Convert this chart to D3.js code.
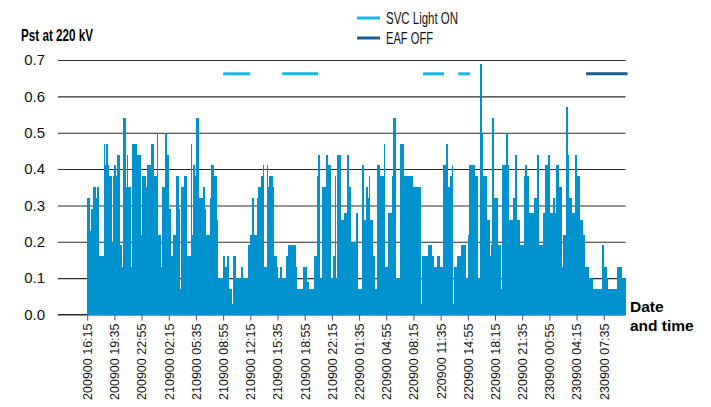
<!DOCTYPE html>
<html>
<head>
<meta charset="utf-8">
<script src="https://cdn.jsdelivr.net/npm/d3@7"></script>
<style>
  body { margin: 0; background: #fff; }
  svg { display: block; font-family: "Liberation Sans", Arial, sans-serif; }
</style>
</head>
<body>
<svg id="chart" width="711" height="407"></svg>
<script>
// 10-minute Pst values, first bar at 200900 16:15
const pstValues = [
  0.32, 0.32, 0.23, 0.29, 0.35, 0.35, 0.32, 0.35, 0.13, 0.16, 0.16, 0.16, 0.47, 0.41, 0.47, 0.41, 0.38, 0.38, 0.20, 0.38,
  0.41, 0.38, 0.44, 0.44, 0.19, 0.13, 0.54, 0.54, 0.35, 0.44, 0.35, 0.35, 0.13, 0.47, 0.47, 0.47, 0.38, 0.44, 0.44, 0.22,
  0.38, 0.38, 0.38, 0.35, 0.41, 0.41, 0.41, 0.47, 0.47, 0.38, 0.38, 0.50, 0.22, 0.22, 0.13, 0.35, 0.35, 0.50, 0.44, 0.44,
  0.29, 0.16, 0.16, 0.22, 0.22, 0.38, 0.38, 0.29, 0.07, 0.35, 0.35, 0.38, 0.38, 0.16, 0.16, 0.16, 0.47, 0.22, 0.41, 0.38,
  0.54, 0.54, 0.32, 0.32, 0.32, 0.35, 0.29, 0.22, 0.22, 0.22, 0.32, 0.41, 0.41, 0.38, 0.38, 0.26, 0.10, 0.10, 0.10, 0.10,
  0.16, 0.13, 0.13, 0.16, 0.07, 0.07, 0.03, 0.16, 0.16, 0.10, 0.10, 0.10, 0.10, 0.13, 0.10, 0.10, 0.10, 0.10, 0.19, 0.19,
  0.22, 0.32, 0.22, 0.22, 0.22, 0.32,
  0.35, 0.35, 0.38, 0.41, 0.13, 0.13, 0.41, 0.35, 0.38, 0.38, 0.35, 0.16, 0.16, 0.13, 0.10, 0.10, 0.13, 0.10, 0.10, 0.10,
  0.16, 0.16, 0.19, 0.19, 0.19, 0.19, 0.19, 0.13, 0.07, 0.07, 0.07, 0.07, 0.07, 0.13, 0.13, 0.09, 0.09, 0.07, 0.07, 0.07,
  0.07, 0.16, 0.16, 0.38, 0.44, 0.10, 0.10, 0.35, 0.35, 0.35, 0.44, 0.41, 0.41, 0.10, 0.10, 0.16, 0.38, 0.10, 0.44, 0.44,
  0.26, 0.26, 0.26, 0.28, 0.28, 0.44, 0.35, 0.35, 0.20, 0.20, 0.20, 0.20, 0.28, 0.07, 0.07, 0.07, 0.41, 0.26, 0.26, 0.35,
  0.32, 0.38, 0.26, 0.26, 0.16, 0.07, 0.07, 0.41, 0.41, 0.38, 0.38, 0.38, 0.47, 0.13, 0.13, 0.28, 0.28, 0.28, 0.38, 0.54,
  0.54, 0.10, 0.10, 0.10, 0.47, 0.47, 0.47, 0.38, 0.38, 0.38, 0.26, 0.38, 0.38, 0.35, 0.35, 0.35, 0.35, 0.35, 0.35, 0.03,
  0.16, 0.16, 0.16, 0.16, 0.16, 0.19, 0.19, 0.16, 0.16, 0.13, 0.13, 0.16, 0.16, 0.13, 0.13, 0.13,
  0.41, 0.41, 0.47, 0.35, 0.35, 0.38, 0.41, 0.03, 0.13, 0.13, 0.16, 0.16, 0.16, 0.19, 0.19, 0.19, 0.10, 0.10, 0.22, 0.41,
  0.41, 0.41, 0.41, 0.38, 0.38, 0.10, 0.10, 0.69, 0.50, 0.38, 0.38, 0.38, 0.26, 0.26, 0.16, 0.19, 0.54, 0.32, 0.32, 0.32,
  0.19, 0.19, 0.07, 0.41, 0.41, 0.41, 0.50, 0.41, 0.26, 0.26, 0.26, 0.32, 0.32, 0.44, 0.26, 0.26, 0.19, 0.19, 0.19, 0.38,
  0.41, 0.38, 0.38,
  0.28, 0.28, 0.28, 0.28, 0.32, 0.32, 0.44, 0.19, 0.19, 0.19, 0.28, 0.28, 0.41, 0.41, 0.44, 0.28, 0.28, 0.22, 0.32, 0.28,
  0.41, 0.41, 0.35, 0.35, 0.13, 0.22, 0.22, 0.57, 0.44, 0.32, 0.32, 0.16, 0.28, 0.28, 0.44, 0.38, 0.38, 0.26, 0.26, 0.22,
  0.22, 0.13, 0.13, 0.13, 0.10, 0.10, 0.10, 0.07, 0.07, 0.07, 0.07, 0.07, 0.07, 0.04, 0.19, 0.13, 0.13, 0.10, 0.07, 0.07,
  0.07, 0.07, 0.07, 0.07, 0.07, 0.13, 0.13, 0.13, 0.10, 0.10, 0.10
];

const firstSample = "200900 16:15";
const sampleMinutes = 10;

const tickLabels = [
  "200900 16:15", "200900 19:35", "200900 22:55", "210900 02:15", "210900 05:35",
  "210900 08:55", "210900 12:15", "210900 15:35", "210900 18:55", "210900 22:15",
  "220900 01:35", "220900 04:55", "220900 08:15", "220900 11:35", "220900 14:55",
  "220900 18:15", "220900 21:35", "230900 00:55", "230900 04:15", "230900 07:35"
];
const yTicks = [0, 0.1, 0.2, 0.3, 0.4, 0.5, 0.6, 0.7];

// status periods drawn as horizontal bars
const svcLightOn = [
  ["210900 08:55", "210900 12:15"],
  ["210900 16:10", "210900 20:35"],
  ["220900 09:25", "220900 12:00"],
  ["220900 13:45", "220900 15:10"]
];
const eafOff = [
  ["230900 05:25", "230900 10:30"]
];
const statusLevel = 0.662;

const parse = d3.timeParse("%d%m%y %H:%M");
const t0 = parse(firstSample);
const data = pstValues.map((v, i) => ({ t: d3.timeMinute.offset(t0, i * sampleMinutes), v: v }));

const svg = d3.select("#chart");
const plotLeft = 58, plotRight = 625.5, plotTop = 60, plotBottom = 314.5;

const x = d3.scaleTime()
  .domain([parse("200900 12:55"), parse("230900 10:15")])
  .range([60, plotRight]);

const y = d3.scaleLinear()
  .domain([0, 0.7])
  .range([plotBottom, plotTop]);

// grid + y labels
const yAxis = svg.append("g")
  .attr("transform", "translate(" + plotLeft + ",0)")
  .call(d3.axisLeft(y).tickValues(yTicks).tickFormat(d3.format(".1f")).tickSize(-(plotRight - plotLeft)).tickPadding(13));
yAxis.select(".domain").remove();
yAxis.selectAll("line").attr("stroke", "#2a2a2a").attr("stroke-width", 1.1);
yAxis.selectAll("text").style("font-size", "15px").attr("fill", "#111");

// bars
svg.append("g")
  .attr("shape-rendering", "crispEdges")
  .selectAll("rect")
  .data(data)
  .enter()
  .append("rect")
  .attr("x", d => x(d.t))
  .attr("y", d => y(d.v))
  .attr("width", d => x(d3.timeMinute.offset(d.t, sampleMinutes)) - x(d.t) + 0.5)
  .attr("height", d => y(0) - y(d.v))
  .attr("fill", "#0092cf");

// status lines
function drawStatus(periods, color) {
  svg.append("g")
    .selectAll("line")
    .data(periods)
    .enter()
    .append("line")
    .attr("x1", d => x(parse(d[0])))
    .attr("x2", d => x(parse(d[1])))
    .attr("y1", y(statusLevel))
    .attr("y2", y(statusLevel))
    .attr("stroke", color)
    .attr("stroke-width", 3);
}
drawStatus(svcLightOn, "#16b6e6");
drawStatus(eafOff, "#1b5b8d");

// x axis
const xAxis = svg.append("g")
  .attr("transform", "translate(0," + plotBottom + ")")
  .call(d3.axisBottom(x).tickValues(tickLabels.map(parse)).tickFormat(d3.timeFormat("%d%m%y %H:%M")).tickSize(6));
xAxis.select(".domain").remove();
xAxis.selectAll("line").attr("stroke", "#555");
xAxis.selectAll("text")
  .attr("transform", "rotate(-90)")
  .attr("x", -9)
  .attr("y", 0)
  .attr("dy", "0.35em")
  .style("text-anchor", "end")
  .style("font-size", "12.5px")
  .attr("fill", "#111");

svg.append("line")
  .attr("x1", plotLeft).attr("x2", 87)
  .attr("y1", plotBottom).attr("y2", plotBottom)
  .attr("stroke", "#2a2a2a");

// titles
svg.append("text")
  .attr("x", 21).attr("y", 41)
  .attr("textLength", 72).attr("lengthAdjust", "spacingAndGlyphs")
  .style("font-size", "17px").style("font-weight", "bold")
  .text("Pst at 220 kV");

svg.append("text")
  .attr("x", 630).attr("y", 312)
  .style("font-size", "15.5px").style("font-weight", "bold")
  .text("Date");
svg.append("text")
  .attr("x", 630).attr("y", 331)
  .style("font-size", "15.5px").style("font-weight", "bold")
  .text("and time");

// legend
const legend = [
  { name: "SVC Light ON", color: "#16b6e6", w: 72 },
  { name: "EAF OFF", color: "#1b5b8d", w: 47 }
];
const lg = svg.append("g");
legend.forEach((d, i) => {
  lg.append("line")
    .attr("x1", 357).attr("x2", 380)
    .attr("y1", 18 + i * 20).attr("y2", 18 + i * 20)
    .attr("stroke", d.color).attr("stroke-width", 3);
  lg.append("text")
    .attr("x", 386).attr("y", 24 + i * 20)
    .attr("textLength", d.w).attr("lengthAdjust", "spacingAndGlyphs")
    .style("font-size", "16.5px").attr("fill", "#111")
    .text(d.name);
});
</script>
</body>
</html>
